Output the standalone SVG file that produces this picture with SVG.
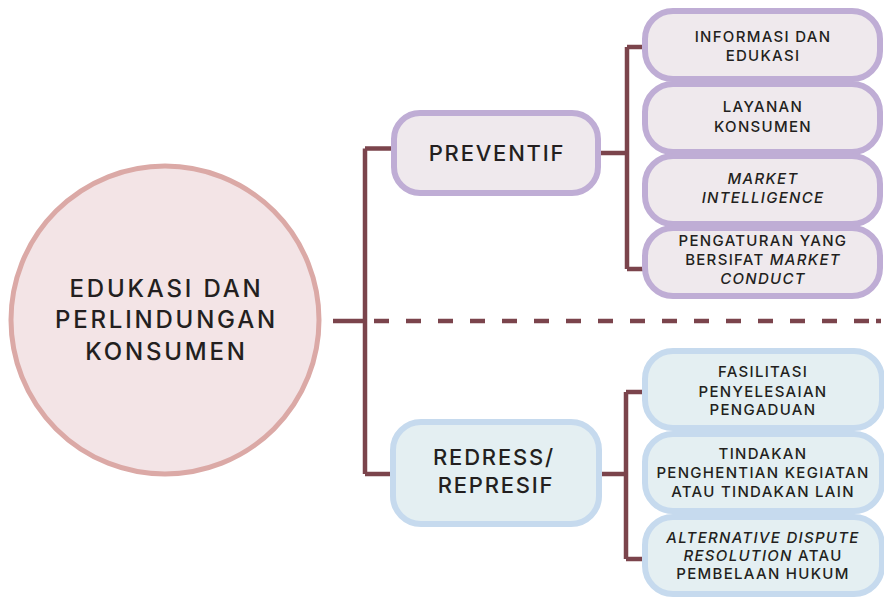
<svg xmlns="http://www.w3.org/2000/svg" width="884" height="598" viewBox="0 0 884 598">
<style>
.ln{stroke:#7b444c;stroke-width:4.5;fill:none}
.pv{fill:#efe9ed;stroke:#bfadd5;stroke-width:6}
.rd{fill:#e4eff2;stroke:#c6daee;stroke-width:6}
text{font-family:Inter,"Liberation Sans",Arial,sans-serif;font-weight:500;fill:#231f20;text-anchor:middle}
.s{font-size:15px;letter-spacing:1.3px}
.m{font-size:22px;letter-spacing:1.8px}
.b{font-size:24px;letter-spacing:2.8px}
.i{font-style:italic}
</style>
<rect width="884" height="598" fill="#ffffff"/>
<g id="connectors">
<path class="ln" d="M333 321H365M365 148.5V474M365 148.5H392M365 474H392"/>
<path class="ln" d="M374 321H872" stroke-dasharray="15 17"/>
<path class="ln" d="M876 321H881"/>
<path class="ln" d="M600 153H627M627 47V269M627 47H644M627 269H644"/>
<path class="ln" d="M601 474H626M626 392V559M626 392H644M626 559H644"/>
</g>
<g id="root">
<circle cx="165" cy="320" r="154" fill="#f3e4e6" stroke="#dba9a6" stroke-width="5"/>
<text class="b" x="166.5" y="297">EDUKASI DAN</text>
<text class="b" x="166.5" y="328">PERLINDUNGAN</text>
<text class="b" x="166.5" y="360">KONSUMEN</text>
</g>
<g id="preventif">
<rect class="pv" x="394" y="113" width="204" height="80" rx="26"/>
<text class="m" x="497" y="161">PREVENTIF</text>
</g>
<g id="redress">
<rect class="rd" x="393" y="422" width="206" height="102" rx="28"/>
<text class="m" x="494" y="465">REDRESS/</text>
<text class="m" x="496" y="493">REPRESIF</text>
</g>
<g id="p1">
<rect class="pv" x="645" y="11" width="235" height="68" rx="28"/>
<text class="s" x="763" y="42">INFORMASI DAN</text>
<text class="s" x="763" y="61">EDUKASI</text>
</g>
<g id="p2">
<rect class="pv" x="645" y="84" width="235" height="68" rx="28"/>
<text class="s" x="763" y="112">LAYANAN</text>
<text class="s" x="763" y="132">KONSUMEN</text>
</g>
<g id="p3">
<rect class="pv" x="645" y="156" width="235" height="68" rx="28"/>
<text class="s i" x="763" y="184">MARKET</text>
<text class="s i" x="763" y="203">INTELLIGENCE</text>
</g>
<g id="p4">
<rect class="pv" x="645" y="228" width="235" height="68" rx="28"/>
<text class="s" x="763" y="246">PENGATURAN YANG</text>
<text class="s" x="763" y="265">BERSIFAT <tspan class="i">MARKET</tspan></text>
<text class="s i" x="763" y="284">CONDUCT</text>
</g>
<g id="r1">
<rect class="rd" x="645" y="351" width="237" height="77" rx="28"/>
<text class="s" x="763" y="377">FASILITASI</text>
<text class="s" x="763" y="397">PENYELESAIAN</text>
<text class="s" x="763" y="415">PENGADUAN</text>
</g>
<g id="r2">
<rect class="rd" x="645" y="434" width="237" height="77" rx="28"/>
<text class="s" x="763" y="459">TINDAKAN</text>
<text class="s" x="763" y="478">PENGHENTIAN KEGIATAN</text>
<text class="s" x="763" y="497">ATAU TINDAKAN LAIN</text>
</g>
<g id="r3">
<rect class="rd" x="645" y="517" width="237" height="77" rx="28"/>
<text class="s i" x="763" y="543">ALTERNATIVE DISPUTE</text>
<text class="s" x="763" y="561"><tspan class="i">RESOLUTION</tspan> ATAU</text>
<text class="s" x="763" y="579">PEMBELAAN HUKUM</text>
</g>
</svg>
